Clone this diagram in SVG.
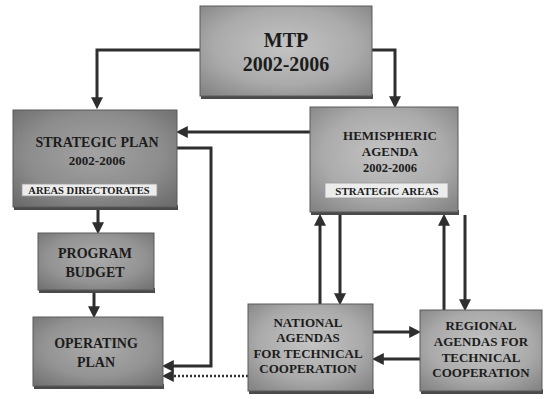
<svg xmlns="http://www.w3.org/2000/svg" width="551" height="399" viewBox="0 0 551 399">
<defs>
<radialGradient id="gLight" cx="50%" cy="45%" r="70%">
<stop offset="0" stop-color="#c4c4c4"/><stop offset="0.6" stop-color="#aaaaaa"/><stop offset="1" stop-color="#858585"/>
</radialGradient>
<radialGradient id="gMid" cx="50%" cy="45%" r="70%">
<stop offset="0" stop-color="#ababab"/><stop offset="0.6" stop-color="#939393"/><stop offset="1" stop-color="#737373"/>
</radialGradient>
<radialGradient id="gDark" cx="50%" cy="45%" r="70%">
<stop offset="0" stop-color="#a3a3a3"/><stop offset="0.6" stop-color="#8c8c8c"/><stop offset="1" stop-color="#6c6c6c"/>
</radialGradient>
<marker id="ah" markerUnits="userSpaceOnUse" markerWidth="12" markerHeight="12" viewBox="0 0 10 10" refX="4" refY="5" orient="auto">
<path d="M0,0 L10,5 L0,10 z" fill="#2e2e2e"/>
</marker>
<style>
.box{stroke:#5a5a5a;stroke-width:1}
.shadow{fill:#4a4a4a}
.t{font-family:"Liberation Serif","Times New Roman",serif;font-weight:bold;fill:#1c1c1c;text-anchor:middle}
.lbl{fill:#ececec;stroke:#9a9a9a;stroke-width:0.8}
.ca{fill:none;stroke:#2e2e2e;stroke-width:3;marker-end:url(#ah)}
.dot{fill:none;stroke:#2e2e2e;stroke-width:2.5;stroke-dasharray:2 2;marker-end:url(#ah)}
</style>
</defs>

<g id="connectors">
<path class="ca" d="M200,50 H97 V102"/>
<path class="ca" d="M372,50 H395 V101"/>
<path class="ca" d="M310,132 H183"/>
<path class="ca" d="M177,148 H211 V366 H169"/>
<path class="ca" d="M98,210 V227"/>
<path class="ca" d="M94,293 V311"/>
<path class="dot" d="M248,376 H169"/>
<path class="ca" d="M320,304 V221"/>
<path class="ca" d="M340,215 V298"/>
<path class="ca" d="M444,310 V221"/>
<path class="ca" d="M465,215 V304"/>
<path class="ca" d="M373,332 H414"/>
<path class="ca" d="M420,359 H379"/>
</g>

<g id="mtp">
<rect class="shadow" x="201" y="94" width="172" height="5"/>
<rect class="box" x="200" y="6" width="172" height="90" fill="url(#gLight)"/>
<text class="t" x="286" y="47" font-size="20">MTP</text>
<text class="t" x="286" y="71" font-size="20">2002-2006</text>
</g>

<g id="strategic-plan">
<rect class="shadow" x="14" y="205" width="164" height="5"/>
<rect class="box" x="13" y="110" width="164" height="97" fill="url(#gDark)"/>
<text class="t" x="97" y="147" font-size="14">STRATEGIC PLAN</text>
<text class="t" x="97" y="165" font-size="13">2002-2006</text>
<rect class="lbl" x="22" y="184" width="135" height="12"/>
<text class="t" x="89" y="194" font-size="10.5">AREAS DIRECTORATES</text>
</g>

<g id="hemispheric-agenda">
<rect class="shadow" x="311" y="210" width="148" height="5"/>
<rect class="box" x="310" y="107" width="148" height="105" fill="url(#gLight)"/>
<text class="t" x="390" y="140" font-size="13">HEMISPHERIC</text>
<text class="t" x="390" y="156" font-size="13">AGENDA</text>
<text class="t" x="390" y="172" font-size="12.5">2002-2006</text>
<rect class="lbl" x="325" y="183" width="123" height="15"/>
<text class="t" x="387" y="195" font-size="11">STRATEGIC AREAS</text>
</g>

<g id="program-budget">
<rect class="shadow" x="39" y="288" width="116" height="5"/>
<rect class="box" x="38" y="233" width="116" height="57" fill="url(#gMid)"/>
<text class="t" x="95" y="258" font-size="14">PROGRAM</text>
<text class="t" x="95" y="277" font-size="14">BUDGET</text>
</g>

<g id="operating-plan">
<rect class="shadow" x="34" y="384" width="130" height="5"/>
<rect class="box" x="33" y="317" width="130" height="69" fill="url(#gMid)"/>
<text class="t" x="96" y="348" font-size="14">OPERATING</text>
<text class="t" x="96" y="367" font-size="14">PLAN</text>
</g>

<g id="national-agendas">
<rect class="shadow" x="249" y="389" width="125" height="5"/>
<rect class="box" x="248" y="304" width="125" height="87" fill="url(#gLight)"/>
<text class="t" x="308" y="327" font-size="13">NATIONAL</text>
<text class="t" x="308" y="342" font-size="13">AGENDAS</text>
<text class="t" x="308" y="358" font-size="13">FOR TECHNICAL</text>
<text class="t" x="308" y="373" font-size="13">COOPERATION</text>
</g>

<g id="regional-agendas">
<rect class="shadow" x="421" y="389" width="122" height="5"/>
<rect class="box" x="420" y="310" width="122" height="81" fill="url(#gLight)"/>
<text class="t" x="481" y="330" font-size="13">REGIONAL</text>
<text class="t" x="481" y="346" font-size="13">AGENDAS FOR</text>
<text class="t" x="481" y="362" font-size="13">TECHNICAL</text>
<text class="t" x="481" y="377" font-size="13">COOPERATION</text>
</g>
</svg>
